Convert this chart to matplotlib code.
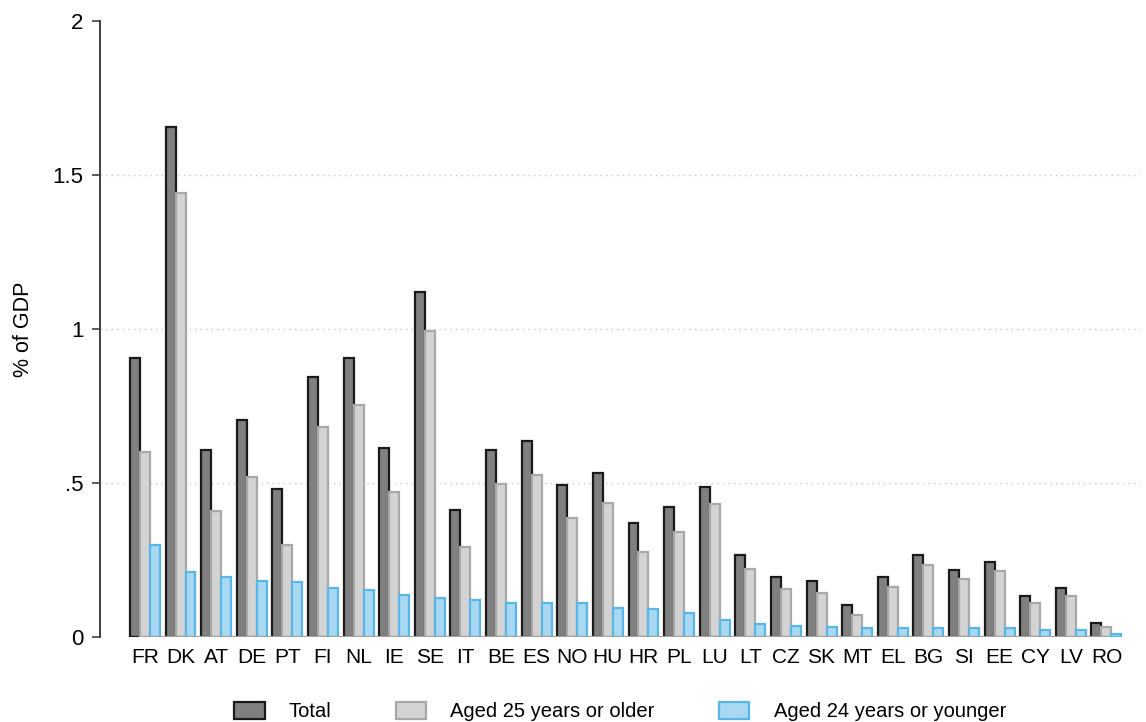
import matplotlib.pyplot as plt
import numpy as np

plt.rcParams["font.family"] = ["Liberation Sans", "DejaVu Sans"]

countries = ["FR", "DK", "AT", "DE", "PT", "FI", "NL", "IE", "SE", "IT", "BE", "ES", "NO", "HU",
             "HR", "PL", "LU", "LT", "CZ", "SK", "MT", "EL", "BG", "SI", "EE", "CY", "LV", "RO"]
total = [0.905, 1.655, 0.608, 0.706, 0.481, 0.844, 0.907, 0.613, 1.121, 0.411, 0.608, 0.637, 0.494, 0.532,
         0.369, 0.422, 0.486, 0.265, 0.194, 0.181, 0.103, 0.194, 0.266, 0.218, 0.245, 0.134, 0.160, 0.045]
aged_25_plus = [0.601, 1.442, 0.410, 0.521, 0.299, 0.681, 0.753, 0.472, 0.993, 0.292, 0.498, 0.527, 0.385, 0.435,
                0.275, 0.342, 0.432, 0.221, 0.157, 0.144, 0.070, 0.162, 0.235, 0.187, 0.215, 0.109, 0.134, 0.034]
aged_24_minus = [0.300, 0.210, 0.195, 0.183, 0.179, 0.159, 0.152, 0.137, 0.126, 0.119, 0.111, 0.109, 0.109, 0.095,
                 0.092, 0.079, 0.054, 0.042, 0.035, 0.032, 0.029, 0.028, 0.028, 0.028, 0.028, 0.024, 0.023, 0.009]

series = [
    ("Total", total, "#808080", "#1a1a1a"),
    ("Aged 25 years or older", aged_25_plus, "#d3d3d3", "#a8a8a8"),
    ("Aged 24 years or younger", aged_24_minus, "#a8d8f2", "#5ab6e6"),
]

fig = plt.figure(figsize=(11.46, 7.22), dpi=100)
ax = fig.add_axes([0.0873, 0.1177, 0.9077, 0.8532])

x = np.arange(len(countries))
width = 0.28

# dotted grid lines, drawn under the bars
for yv in [0, 0.5, 1.0, 1.5]:
    ax.axhline(yv, color="#c8c8c8", linestyle=(0, (1, 3)), linewidth=1.0, zorder=0)

for i, (label, vals, fc, ec) in enumerate(series):
    ax.bar(x + (i - 1) * width, vals, width=width, color=fc, edgecolor=ec,
           linewidth=1.6, label=label, zorder=2)

# solid base line spanning the categories
ax.plot([x[0], x[-1]], [0, 0], color="#a0a0a0", linewidth=1.6, zorder=3)

ax.set_xlim(x[0] - 1.26, x[-1] + 0.95)
ax.set_ylim(0, 2)
ax.set_yticks([0, 0.5, 1, 1.5, 2])
ax.set_yticklabels(["0", ".5", "1", "1.5", "2"])
ax.set_xticks(x)
ax.set_xticklabels(countries)
ax.tick_params(axis="x", length=0, pad=8, labelsize=15)
ax.tick_params(axis="y", length=6, width=1.2, color="#404040", pad=6, labelsize=16)
ax.set_ylabel("% of GDP", fontsize=15.5, labelpad=13)

for side in ["top", "right", "bottom"]:
    ax.spines[side].set_visible(False)
ax.spines["left"].set_color("#404040")
ax.spines["left"].set_linewidth(1.4)

ax.legend(loc="upper center", bbox_to_anchor=(0.5, -0.076), ncol=3, frameon=False,
          fontsize=14.5, handlelength=1.5, handleheight=0.9, columnspacing=3.2, handletextpad=1.2)

plt.savefig("out.png", dpi=100)
